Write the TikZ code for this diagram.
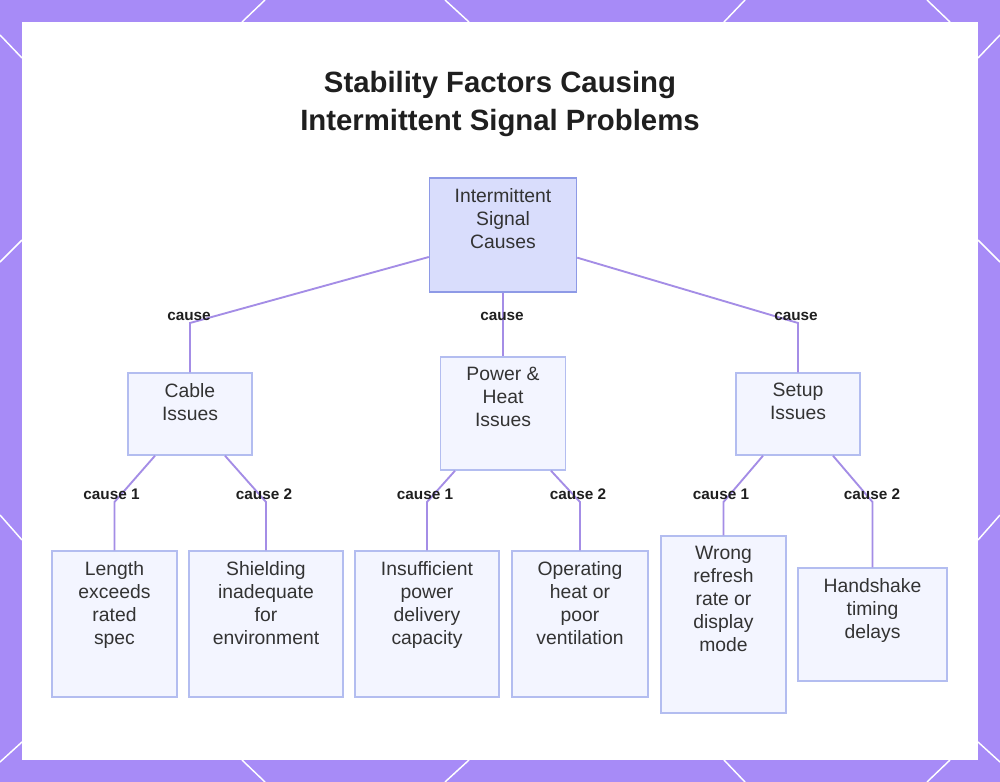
\documentclass[tikz,border=0pt]{standalone}
\usepackage{fontspec}
\setmainfont{Liberation Sans}
\usetikzlibrary{positioning}
\definecolor{framepurple}{HTML}{A78BF7}
\definecolor{linkpurple}{HTML}{A48DE6}
\definecolor{rootfill}{HTML}{D9DDFC}
\definecolor{rootline}{HTML}{8E9AE6}
\definecolor{boxfill}{HTML}{F3F5FF}
\definecolor{boxline}{HTML}{B3BDF0}
\definecolor{textgray}{HTML}{333333}
\definecolor{labelgray}{HTML}{1F1F1F}
\begin{document}
\begin{tikzpicture}[x=0.75pt,y=-0.75pt,
				box/.style={draw=boxline,fill=boxfill,line width=1.1pt,inner sep=0pt},
				rootbox/.style={box,draw=rootline,fill=rootfill},
				txt/.style={align=center,inner sep=0pt,text=textgray,font=\fontsize{14.5}{17.25}\selectfont},
				lbl/.style={inner sep=0pt,text=labelgray,font=\fontsize{11.5}{13}\selectfont\bfseries},
				title/.style={align=center,inner sep=0pt,text=labelgray,font=\fontsize{22}{28.5}\selectfont\bfseries},
				link/.style={draw=linkpurple,line width=1.4pt},
				deco/.style={draw=white,line width=1.1pt}]
\useasboundingbox (0,0) rectangle (1000,782);
\fill[framepurple] (0,0) rectangle (1000,782);
\fill[white] (22,22) rectangle (978,760);
\draw[deco] (265,0) -- (242,22) (445,0) -- (469,22) (745,0) -- (724,22) (927,0) -- (950,22);
\draw[deco] (242,760) -- (265,782) (469,760) -- (445,782) (724,760) -- (745,782) (950,760) -- (927,782);
\draw[deco] (0,35) -- (22,58) (0,262) -- (22,240) (0,515) -- (22,540) (0,762) -- (22,742);
\draw[deco] (978,58) -- (1000,35) (978,240) -- (1000,262) (978,540) -- (1000,515) (978,742) -- (1000,762);

\node[title] (head) at (500,104) {Stability Factors Causing\\Intermittent Signal Problems};

\node[rootbox,minimum width=110.25pt,minimum height=85.5pt] (root) at (503,235) {};
\node[txt,below=8pt of root.north] {Intermittent\\Signal\\Causes};

\node[box,minimum width=93pt,minimum height=61.5pt] (cable) at (190,414) {};
\node[txt,below=8pt of cable.north] {Cable\\Issues};
\node[box,minimum width=93.75pt,minimum height=84.75pt] (power) at (503,413.5) {};
\node[txt,below=8pt of power.north] {Power \&\\Heat\\Issues};
\node[box,minimum width=93pt,minimum height=61.5pt] (setup) at (798,414) {};
\node[txt,below=8pt of setup.north] {Setup\\Issues};

\node[box,minimum width=93.75pt,minimum height=109.5pt] (length) at (114.5,624) {};
\node[txt,below=8pt of length.north] {Length\\exceeds\\rated\\spec};
\node[box,minimum width=115.5pt,minimum height=109.5pt] (shield) at (266,624) {};
\node[txt,below=8pt of shield.north] {Shielding\\inadequate\\for\\environment};
\node[box,minimum width=108pt,minimum height=109.5pt] (lowpower) at (427,624) {};
\node[txt,below=8pt of lowpower.north] {Insufficient\\power\\delivery\\capacity};
\node[box,minimum width=102pt,minimum height=109.5pt] (heat) at (580,624) {};
\node[txt,below=8pt of heat.north] {Operating\\heat or\\poor\\ventilation};
\node[box,minimum width=93.75pt,minimum height=132.75pt] (refresh) at (723.5,624.5) {};
\node[txt,below=8pt of refresh.north] {Wrong\\refresh\\rate or\\display\\mode};
\node[box,minimum width=111.75pt,minimum height=84.75pt] (handshake) at (872.5,624.5) {};
\node[txt,below=8pt of handshake.north] {Handshake\\timing\\delays};

\draw[link] ([yshift=-16.5pt]root.west) -- (cable.north |- 0,323) -- (cable.north);
\draw[link] (root.south) -- (power.north);
\draw[link] ([yshift=-17pt]root.east) -- (setup.north |- 0,323) -- (setup.north);
\draw[link] ([xshift=-26.25pt]cable.south) -- (length.north |- 0,502) -- (length.north);
\draw[link] ([xshift=26.25pt]cable.south) -- (shield.north |- 0,502) -- (shield.north);
\draw[link] ([xshift=-36pt]power.south) -- (lowpower.north |- 0,502) -- (lowpower.north);
\draw[link] ([xshift=36pt]power.south) -- (heat.north |- 0,502) -- (heat.north);
\draw[link] ([xshift=-26.25pt]setup.south) -- (refresh.north |- 0,502) -- (refresh.north);
\draw[link] ([xshift=26.25pt]setup.south) -- (handshake.north |- 0,502) -- (handshake.north);

\node[lbl] (l1) at (189,316) {cause};
\node[lbl] (l2) at (502,316) {cause};
\node[lbl] (l3) at (796,316) {cause};
\node[lbl] (l4) at (111.5,494) {cause 1};
\node[lbl] (l5) at (264,494) {cause 2};
\node[lbl] (l6) at (425,494) {cause 1};
\node[lbl] (l7) at (578,494) {cause 2};
\node[lbl] (l8) at (721,494) {cause 1};
\node[lbl] (l9) at (872,494) {cause 2};
\end{tikzpicture}
\end{document}
